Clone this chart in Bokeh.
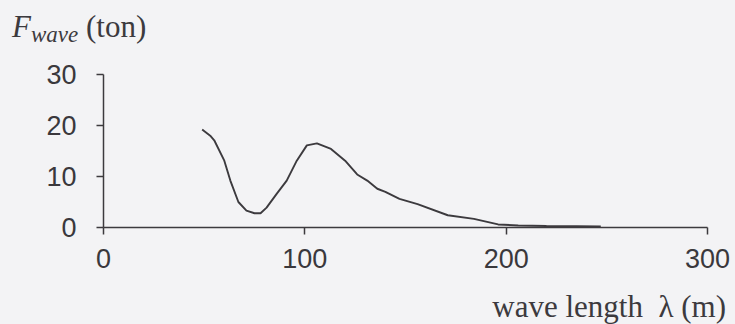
from bokeh.plotting import figure
from bokeh.models import Range1d, FixedTicker, Div
from bokeh.layouts import column
from bokeh.embed import file_html
from bokeh.resources import INLINE

# data
wave_length = [49, 53, 55, 60, 63, 67, 71, 75, 78, 81, 86, 91, 96, 101, 106, 113,
               120, 126, 131, 136, 140, 147, 156, 171, 184, 196, 206, 220, 235, 247]
f_wave = [19.2, 18.0, 17.1, 13.1, 9.2, 5.0, 3.3, 2.8, 2.8, 3.9, 6.6, 9.2, 13.1, 16.1,
          16.5, 15.4, 13.1, 10.4, 9.2, 7.6, 7.0, 5.6, 4.6, 2.4, 1.7, 0.6, 0.4, 0.3, 0.25, 0.2]
x_ticks = [0, 100, 200, 300]
y_ticks = [0, 10, 20, 30]
y_title_main = "F"
y_title_sub = "wave"
y_title_unit = "(ton)"
x_title = "wave length&nbsp;&nbsp;\u03bb (m)"

BG = "#f3f3f5"
INK = "#3c3a3e"
W = 735

title_div = Div(
    width=W, height=50, margin=(0, 0, 0, 0),
    styles={"background-color": BG},
    text=(f'<div style="padding-left:12px; padding-top:9px; font-family:\'Liberation Serif\'; '
          f'font-size:31px; line-height:36px; color:{INK}; white-space:nowrap">'
          f'<i>{y_title_main}</i><i style="font-size:23px; vertical-align:-5px">{y_title_sub}</i>'
          f'&nbsp;{y_title_unit}</div>'),
)

p = figure(width=W, height=230, output_backend="svg", toolbar_location=None,
           x_range=Range1d(0, 300), y_range=Range1d(0, 30), margin=(0, 0, 0, 0),
           min_border_left=103, min_border_right=28, min_border_top=24, min_border_bottom=53)
p.background_fill_color = BG
p.border_fill_color = BG
p.outline_line_color = None
p.xgrid.grid_line_color = None
p.ygrid.grid_line_color = None

for ax in (p.xaxis[0], p.yaxis[0]):
    ax.axis_line_color = INK
    ax.axis_line_width = 1.5
    ax.major_tick_line_color = INK
    ax.major_tick_line_width = 1.5
    ax.major_tick_in = 0
    ax.major_tick_out = 7
    ax.minor_tick_line_color = None
    ax.major_label_text_font = "Liberation Sans"
    ax.major_label_text_font_size = "27px"
    ax.major_label_text_color = "#3a383c"

p.xaxis.ticker = FixedTicker(ticks=x_ticks)
p.yaxis.ticker = FixedTicker(ticks=y_ticks)
p.xaxis.major_label_standoff = 14
p.yaxis.major_label_standoff = 20

p.line(wave_length, f_wave, line_color=INK, line_width=1.9)

xlabel_div = Div(
    width=W, height=44, margin=(0, 0, 0, 0),
    styles={"background-color": BG},
    text=(f'<div style="width:726px; padding-top:9px; text-align:right; '
          f'font-family:\'Liberation Serif\'; font-size:31px; line-height:normal; '
          f'color:{INK}; white-space:nowrap">{x_title}</div>'),
)

layout = column(title_div, p, xlabel_div, spacing=0, styles={"background-color": BG})
open("out.html", "w").write(file_html(layout, INLINE))
